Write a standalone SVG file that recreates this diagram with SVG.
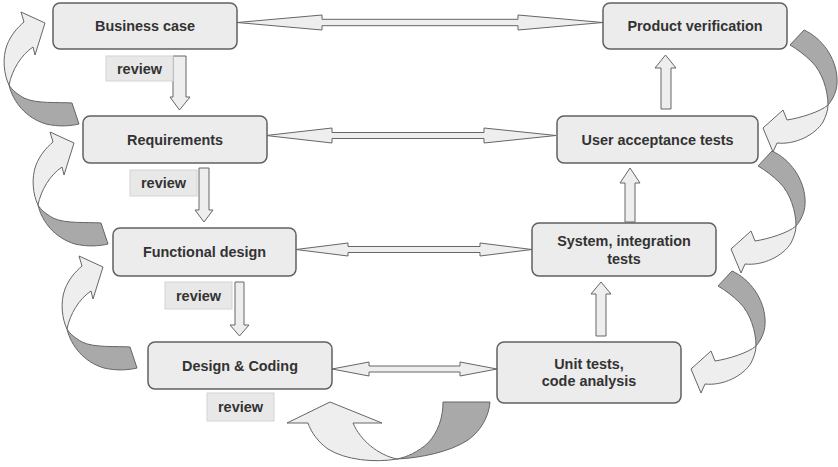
<svg xmlns="http://www.w3.org/2000/svg" xmlns:xlink="http://www.w3.org/1999/xlink" width="838" height="467" viewBox="0 0 838 467">
<style>
.box{fill:#ececec;stroke:#606060;stroke-width:1.5}
.t{font-family:"Liberation Sans",Arial,sans-serif;font-weight:bold;font-size:14.4px;fill:#333;text-anchor:middle}
.rv{fill:#e8e8e8;stroke:#d4d4d4;stroke-width:1}
.rt{font-family:"Liberation Sans",Arial,sans-serif;font-weight:bold;font-size:14.5px;fill:#333;text-anchor:middle}
.blk{fill:#eeeeee;stroke:#666;stroke-width:1;stroke-linejoin:miter}
.dk{fill:#a9a9a9;stroke:#666;stroke-width:1}
.lt{fill:#eeeeee;stroke:#666;stroke-width:1}
</style>
<defs>
<g id="curveL">
<path class="dk" d="M38,205 C42,222 55,238 75,244 C88,247 100,246 108,244 L101,223 C88,222 65,224 53,218 C46,214 41,210 38,205 Z"/>
<path class="lt" d="M53,142 L50,132 L74,143 L64,175 L62,167 C50,175 41,190 38,205 C33,195 31,178 36,165 C40,155 46,148 53,142 Z"/>
</g>
<g id="curveR">
<path class="dk" d="M804,30 C822,38 836,58 837,78 C838,90 833,99 828,105 C828,90 822,72 812,62 C805,55 797,49 790,45 Z"/>
<path class="lt" d="M828,105 C820,112 800,118 787,120 L783,110 L763,128 L773,152 L777,143 C795,145 815,135 823,122 C826,116 828,110 828,105 Z"/>
</g>
</defs>

<g id="connectors">
<polygon class="blk" points="237,22.5 322,15 322,19.3 518,19.3 518,15 603,22.5 518,30 518,25.7 322,25.7 322,30"/>
<polygon class="blk" points="266,135.5 332,128 332,132.5 484,132.5 484,128 556,135.5 484,143 484,138.5 332,138.5 332,143"/>
<polygon class="blk" points="296,249.5 348,243 348,246.5 480,246.5 480,243 532,249.5 480,256 480,252.5 348,252.5 348,256"/>
<polygon class="blk" points="332,369 369,362 369,366 460,366 460,362 497,369 460,376 460,372 369,372 369,376"/>
<polygon class="blk" points="173,56 186,56 186,97 190,97 179.5,110 170,97 173,97"/>
<polygon class="blk" points="199,168 209,168 209,210 213,210 204,222 195,210 199,210"/>
<polygon class="blk" points="235,282 244,282 244,325 249,325 239.5,336 230,325 235,325"/>
<polygon class="blk" points="661,109 671,109 671,68 676,68 665.5,55 655,68 661,68"/>
<polygon class="blk" points="625,222 635,222 635,183 640,183 630,168 620,183 625,183"/>
<polygon class="blk" points="596,336 606,336 606,294 611,294 601,282 591,294 596,294"/>
<use xlink:href="#curveL" transform="translate(-29,-120)"/>
<use xlink:href="#curveL"/>
<use xlink:href="#curveL" transform="translate(29,124)"/>
<use xlink:href="#curveR"/>
<use xlink:href="#curveR" transform="translate(-32,121)"/>
<use xlink:href="#curveR" transform="translate(-72,241)"/>
<g id="loop-bottom">
<path class="dk" d="M397,459 C420,458 450,452 468,440 C482,430 489,415 490,402 L443,402 C443,418 438,432 428,443 C418,452 407,457 397,459 Z"/>
<path class="lt" d="M308,423 L287,423 L330,402 L382,423 L353,423 C360,440 378,455 397,459 C375,463 345,460 328,449 C318,442 311,432 308,423 Z"/>
</g>
</g>

<g id="review1"><rect class="rv" x="106" y="56" width="67" height="25"/><text class="rt" x="139.5" y="74">review</text></g>
<g id="review2"><rect class="rv" x="130" y="170" width="67" height="26"/><text class="rt" x="163.5" y="188">review</text></g>
<g id="review3"><rect class="rv" x="165" y="282" width="67" height="27"/><text class="rt" x="198.5" y="301">review</text></g>
<g id="review4"><rect class="rv" x="207" y="393" width="67" height="28"/><text class="rt" x="240.5" y="412">review</text></g>

<g id="business-case"><rect class="box" x="53" y="3" width="184" height="46" rx="7"/><text class="t" x="145" y="31">Business case</text></g>
<g id="product-verification"><rect class="box" x="603" y="3" width="184" height="46" rx="7"/><text class="t" x="695" y="31">Product verification</text></g>
<g id="requirements"><rect class="box" x="83" y="116" width="184" height="47" rx="7"/><text class="t" x="175" y="144.5">Requirements</text></g>
<g id="user-acceptance-tests"><rect class="box" x="557" y="116" width="201" height="47" rx="7"/><text class="t" x="657.5" y="144.5">User acceptance tests</text></g>
<g id="functional-design"><rect class="box" x="113" y="228" width="183" height="48" rx="7"/><text class="t" x="204.5" y="257">Functional design</text></g>
<g id="system-integration-tests"><rect class="box" x="532" y="223" width="184" height="53" rx="7"/><text class="t" x="624" y="246">System, integration</text><text class="t" x="624" y="264">tests</text></g>
<g id="design-coding"><rect class="box" x="148" y="342" width="184" height="47" rx="7"/><text class="t" x="240" y="371">Design &amp; Coding</text></g>
<g id="unit-tests"><rect class="box" x="497" y="342" width="184" height="61" rx="7"/><text class="t" x="589" y="369">Unit tests,</text><text class="t" x="589" y="386">code analysis</text></g>
</svg>
